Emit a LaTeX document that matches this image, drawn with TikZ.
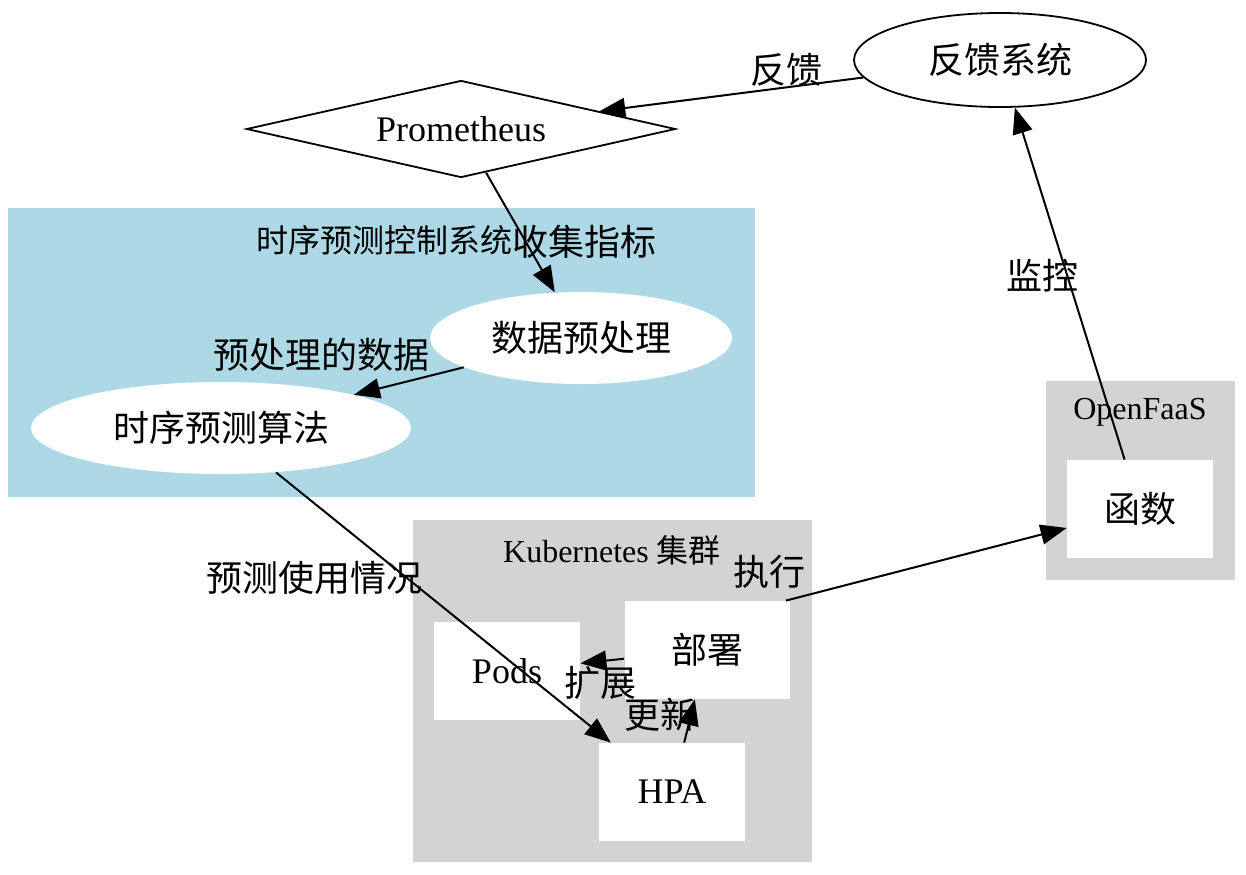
\documentclass[tikz,border=0pt]{standalone}
\usepackage{fontspec}
\setmainfont{Liberation Serif}
\newfontfamily\cjk{Noto Sans CJK SC}
\usetikzlibrary{shapes.geometric,arrows.meta}
\definecolor{predictblue}{HTML}{ADD8E6}
\definecolor{clustergray}{HTML}{D3D3D3}
\tikzset{
  big/.style={font=\fontsize{18}{22}\selectfont},
  small/.style={font=\fontsize{16}{19}\selectfont},
  box/.style={big,fill=white,inner sep=0pt,minimum width=73pt,minimum height=49pt},
  oval/.style={big,ellipse,fill=white,inner sep=0pt},
  link/.style={-{Triangle[length=13pt,width=10pt]},line width=1pt},
  elabel/.style={big,inner sep=0pt}
}
\begin{document}
\begin{tikzpicture}[x=0.5pt,y=-0.5pt]
\useasboundingbox[fill=white] (0,0) rectangle (1246,874);

% Clusters
\fill[predictblue] (8,208) rectangle (755,497);
\node[small] (lpredict) at (384,240) {\cjk 时序预测控制系统};
\fill[clustergray] (413,520) rectangle (812,862);
\node[small] (lkube) at (612,550) {Kubernetes {\cjk 集群}};
\fill[clustergray] (1046,381) rectangle (1235,580);
\node[small] (lfaas) at (1140,412) {OpenFaaS};

% Nodes
\node[oval,draw,line width=0.9pt,minimum width=146pt,minimum height=47pt] (feedback) at (1000,60) {\cjk 反馈系统};
\node[big,diamond,draw,fill=white,line width=0.9pt,aspect=4.4,inner sep=0pt,
  minimum width=214.5pt,minimum height=48.5pt] (prom) at (461,129) {Prometheus};
\node[oval,minimum width=151pt,minimum height=46pt] (prep) at (581,338) {\cjk 数据预处理};
\node[oval,minimum width=190pt,minimum height=46pt] (algo) at (221,428) {\cjk 时序预测算法};
\node[box] (pods) at (507,671) {Pods};
\node[box,minimum width=82.5pt] (deploy) at (707,650) {\cjk 部署};
\node[box] (hpa) at (672,792) {HPA};
\node[box] (func) at (1140,509) {\cjk 函数};

% Edges
\draw[link] (feedback) -- (prom);
\draw[link] (prom) -- (prep);
\draw[link] (prep) -- (algo);
\draw[link] (algo) -- (hpa);
\draw[link] (hpa) -- (deploy);
\draw[link] (deploy) -- (pods);
\draw[link] ([xshift=-2pt]deploy.north east) -- (func);
\draw[link] (func) -- (feedback);

% Edge labels
\node[elabel] (lfeed) at (786,70) {\cjk 反馈};
\node[elabel] (lcollect) at (584,242) {\cjk 收集指标};
\node[elabel] (lprep) at (321,355) {\cjk 预处理的数据};
\node[elabel] (lusage) at (314,578) {\cjk 预测使用情况};
\node[elabel] (lmonitor) at (1042,276) {\cjk 监控};
\node[elabel] (lexec) at (769,572) {\cjk 执行};
\node[elabel] (lscale) at (600,683) {\cjk 扩展};
\node[elabel] (lupdate) at (660,715) {\cjk 更新};
\end{tikzpicture}
\end{document}
